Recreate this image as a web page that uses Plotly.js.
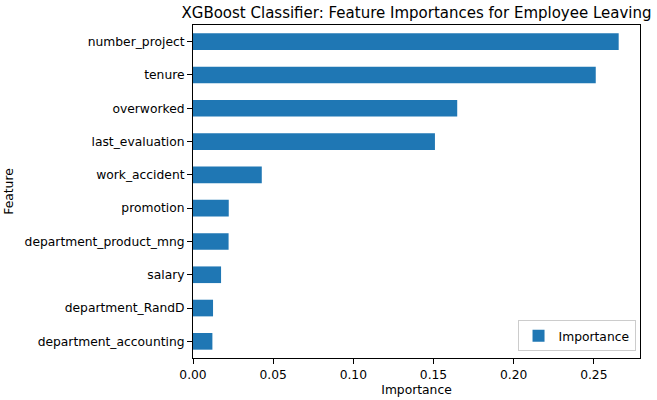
<!DOCTYPE html>
<html>
<head>
<meta charset="utf-8">
<script src="https://cdn.plot.ly/plotly-3.0.1.min.js"></script>
<style>html,body{margin:0;padding:0;background:#fff;}#chart{width:657px;height:400px;}</style>
</head>
<body>
<div id="chart"></div>
<script>
const features = ["number_project","tenure","overworked","last_evaluation","work_accident","promotion","department_product_mng","salary","department_RandD","department_accounting"];
const importance = [0.2655,0.2512,0.1648,0.1509,0.0429,0.0223,0.0222,0.0175,0.0125,0.0121];
const xTicks = [0,0.05,0.10,0.15,0.20,0.25];

const font = {family: "DejaVu Sans, sans-serif", size: 12.3, color: "#000"};
const trace = {
  type: "bar", orientation: "h",
  x: importance, y: features,
  name: "Importance",
  marker: {color: "#1f77b4"},
  showlegend: true,
  hoverinfo: "x+y"
};
const layout = {
  width: 657, height: 400,
  margin: {l: 193, r: 17, t: 25, b: 42},
  paper_bgcolor: "#fff", plot_bgcolor: "#fff",
  font: font,
  bargap: 0.5,
  title: {text: "XGBoost Classifier: Feature Importances for Employee Leaving", font: {family: "DejaVu Sans, sans-serif", size: 15, color: "#000"}, x: 0.634, xanchor: "center", y: 0.968, yanchor: "middle"},
  xaxis: {
    range: [0, 0.2788], tickvals: xTicks, tickformat: ".2f",
    showline: true, mirror: true, linecolor: "#000", linewidth: 1,
    ticks: "outside", ticklen: 5, tickcolor: "#000", showgrid: false, zeroline: false,
    title: {text: "Importance", font: font, standoff: 4}
  },
  yaxis: {
    type: "category", categoryorder: "array", categoryarray: features,
    range: [9.5, -0.5],
    showline: true, mirror: true, linecolor: "#000", linewidth: 1,
    ticks: "outside", ticklen: 5, tickcolor: "#000", showgrid: false, zeroline: false,
    title: {text: "Feature", font: font, standoff: 8}
  },
  legend: {x: 0.99, y: 0.02, xanchor: "right", yanchor: "bottom", bordercolor: "#ccc", borderwidth: 1, bgcolor: "rgba(255,255,255,0.8)", font: font}
};
Plotly.newPlot("chart", [trace], layout, {displayModeBar: false, staticPlot: true});
</script>
</body>
</html>
